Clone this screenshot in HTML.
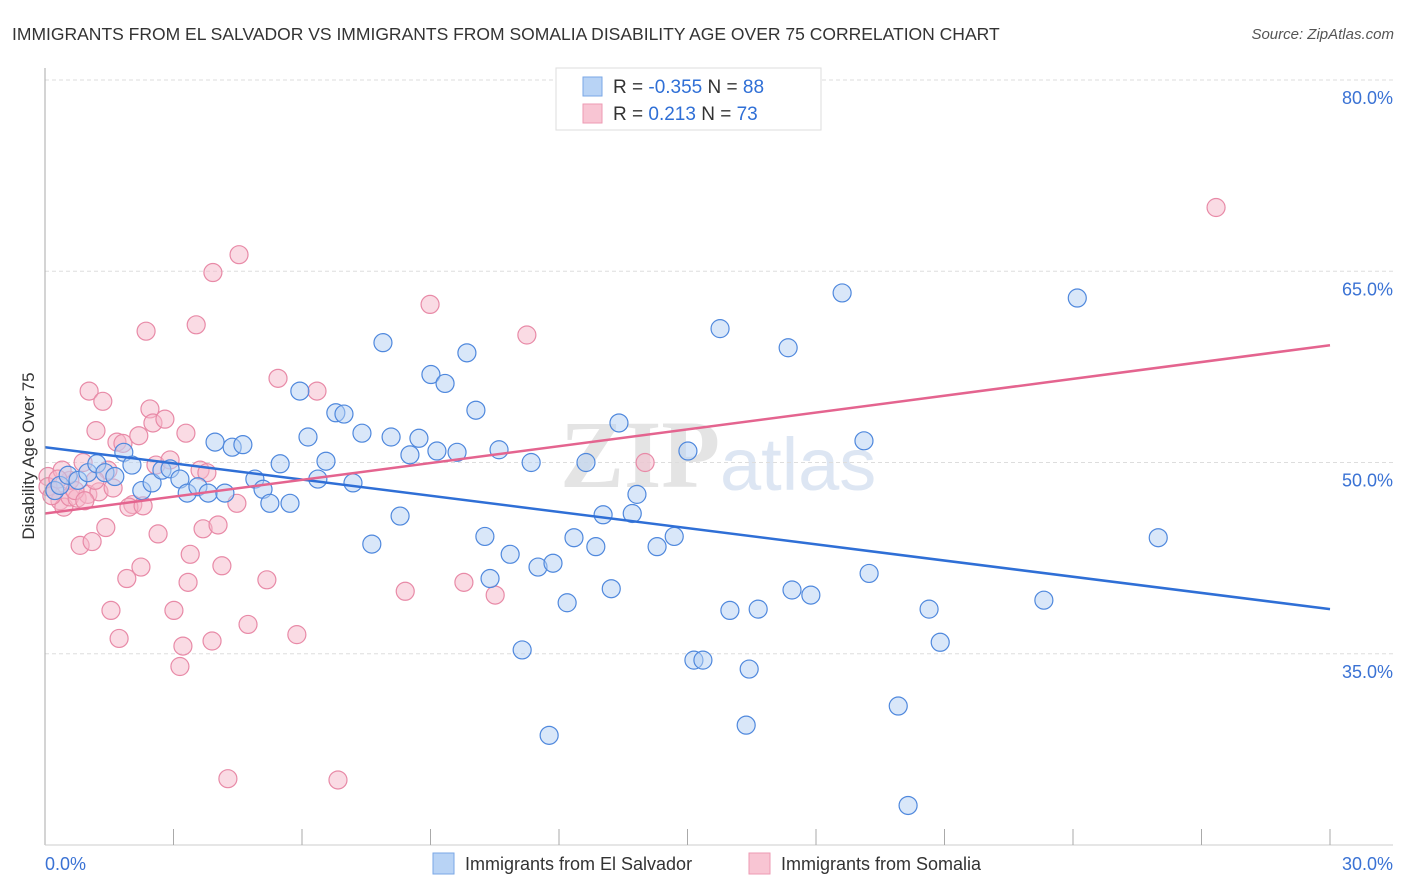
<!DOCTYPE html>
<html><head><meta charset="utf-8"><style>
body{margin:0;background:#fff;font-family:"Liberation Sans",sans-serif;}
svg{display:block}
</style></head><body>
<svg id="chart" width="1406" height="892">
<text x="12" y="40" font-size="17.5" fill="#333">IMMIGRANTS FROM EL SALVADOR VS IMMIGRANTS FROM SOMALIA DISABILITY AGE OVER 75 CORRELATION CHART</text>
<text x="1394" y="39" font-size="15" fill="#555" font-style="italic" text-anchor="end">Source: ZipAtlas.com</text>
<text x="720" y="487" font-size="96" fill="#e4e4e4" font-family="Liberation Serif" text-anchor="end" font-weight="bold">ZIP</text>
<text x="720" y="490" font-size="74" fill="#dde6f3">atlas</text>
<g id="grid"></g><g id="pts"></g><g id="trend"></g><g id="axes"></g>
<text transform="translate(34,456) rotate(-90)" font-size="17" fill="#333" text-anchor="middle">Disability Age Over 75</text>
<g>
<rect x="556" y="68" width="265" height="62" fill="#fff" stroke="#ddd"/>
<rect x="583" y="77" width="19" height="19" fill="#b8d3f5" stroke="#7aa7e6"/>
<rect x="583" y="104" width="19" height="19" fill="#f8c5d3" stroke="#ee9ab3"/>
<text x="613" y="93" font-size="19" fill="#333">R = <tspan fill="#2f6fd6">-0.355</tspan>   N = <tspan fill="#2f6fd6">88</tspan></text>
<text x="613" y="120" font-size="19" fill="#333">R =    <tspan fill="#2f6fd6">0.213</tspan>   N = <tspan fill="#2f6fd6">73</tspan></text>
</g>
<g>
<rect x="433" y="853" width="21" height="21" fill="#b8d3f5" stroke="#7aa7e6"/>
<text x="465" y="870" font-size="18" fill="#333">Immigrants from El Salvador</text>
<rect x="749" y="853" width="21" height="21" fill="#f8c5d3" stroke="#ee9ab3"/>
<text x="781" y="870" font-size="18" fill="#333">Immigrants from Somalia</text>
</g>
</svg>
<script>
const xTicks=[0,3,6,9,12,15,18,21,24,27,30];
const yTicks=[35,50,65,80];
const xLabels=["0.0%","30.0%"];
const blueX=[0.23,0.35,0.54,0.77,1.00,1.21,1.40,1.63,1.84,2.03,2.26,2.50,2.73,2.92,3.15,3.32,3.57,3.81,4.20,3.97,4.37,4.62,4.90,5.09,5.25,5.49,5.72,5.95,6.14,6.37,6.56,6.79,6.98,7.19,7.40,7.63,7.89,8.08,8.29,8.52,8.73,9.01,9.15,9.34,9.62,9.85,10.06,10.27,10.39,10.60,10.86,11.14,11.35,11.51,11.77,11.86,12.19,12.35,12.63,12.86,13.03,13.22,13.40,13.71,13.82,14.29,14.69,15.01,15.15,15.36,15.76,15.99,16.37,16.44,16.65,17.35,17.44,17.88,18.61,19.12,19.24,19.92,20.15,20.64,20.90,23.32,24.10,25.99];
const blueY=[47.8,48.2,49.0,48.6,49.2,49.9,49.2,48.9,50.8,49.8,47.8,48.4,49.4,49.5,48.7,47.6,48.1,47.6,47.6,51.6,51.2,51.4,48.7,47.9,46.8,49.9,46.8,55.6,52.0,48.7,50.1,53.9,53.8,48.4,52.3,43.6,59.4,52.0,45.8,50.6,51.9,56.9,50.9,56.2,50.8,58.6,54.1,44.2,40.9,51.0,42.8,35.3,50.0,41.8,28.6,42.1,39.0,44.1,50.0,43.4,45.9,40.1,53.1,46.0,47.5,43.4,44.2,50.9,34.5,34.5,60.5,38.4,29.4,33.8,38.5,59.0,40.0,39.6,63.3,51.7,41.3,30.9,23.1,38.5,35.9,39.2,62.9,44.1];
const pinkX=[0.07,0.23,0.35,0.44,0.58,0.75,0.82,0.89,1.00,1.10,1.03,1.19,1.26,1.35,1.42,1.54,1.59,1.73,1.68,1.82,1.91,2.05,1.96,2.24,2.19,2.36,2.45,2.52,2.64,2.59,2.80,2.92,3.01,3.15,3.22,3.34,3.29,3.39,3.53,3.62,3.69,3.78,3.90,3.92,4.04,4.13,4.27,4.48,4.53,4.74,5.18,5.44,5.88,6.35,6.84,8.41,8.99,9.78,10.51,11.25,14.01,27.34,0.58,0.40,0.70,1.47,2.29,1.17,0.93,0.07,0.16,0.30];
const pinkY=[48.9,47.8,47.0,46.5,47.3,47.2,43.5,50.0,47.5,43.8,55.6,52.5,47.7,54.8,44.9,38.4,48.0,36.2,51.6,51.5,40.9,46.7,46.5,41.8,52.1,60.3,54.2,53.1,44.4,49.8,53.4,50.2,38.4,34.0,35.6,40.6,52.3,42.8,60.8,49.4,44.8,49.2,36.0,64.9,45.1,41.9,25.2,46.8,66.3,37.3,40.8,56.6,36.5,55.6,25.1,39.9,62.4,40.6,39.6,60.0,50.0,70.0,48.6,49.4,47.8,49.4,46.6,48.6,47.0,48.1,47.4,48.7];
const blueTrend=[51.2,38.5];
const pinkTrend=[46.0,59.2];
const X0=45,X1=1330,Y0=845,Y1=80,XMIN=0,XMAX=30,YMIN=20,YMAX=80;
const sx=v=>X0+(v-XMIN)/(XMAX-XMIN)*(X1-X0);
const sy=v=>Y0-(v-YMIN)/(YMAX-YMIN)*(Y0-Y1);
const NS="http://www.w3.org/2000/svg";
function mk(tag,attrs,parent){const e=document.createElementNS(NS,tag);for(const k in attrs)e.setAttribute(k,attrs[k]);document.getElementById(parent).appendChild(e);return e;}
yTicks.forEach(t=>{
 const l=mk('line',{x1:X0,x2:1393,y1:sy(t),y2:sy(t),stroke:'#ddd','stroke-dasharray':'4,3'},'grid');
 
 
 const tx=mk('text',{x:1393,y:sy(t)+24,'font-size':18,fill:'#3a72d4','text-anchor':'end'},'grid');
 tx.textContent=t.toFixed(1)+'%';
 
 
});
const ax=mk('line',{x1:X0,x2:X0,y1:68,y2:Y0,stroke:'#aaa'},'axes');


const bx=mk('line',{x1:X0,x2:1393,y1:Y0,y2:Y0,stroke:'#ccc'},'axes');


xTicks.forEach(t=>{
 if(t===0)return;
 const l=mk('line',{x1:sx(t),x2:sx(t),y1:Y0-16,y2:Y0,stroke:'#aaa'},'axes');
 
 
});
[[XMIN,xLabels[0],'start',X0],[XMAX,xLabels[1],'end',1393]].forEach(([v,s,a,px])=>{
 const tx=mk('text',{x:px,y:870,'font-size':18,fill:'#3a72d4','text-anchor':a},'axes');
 tx.textContent=s;
 
 
});
function pts(xs,ys,fill,stroke,name){xs.forEach((x,i)=>{
 const c=mk('circle',{cx:sx(x),cy:sy(ys[i]),r:9,fill:fill,'fill-opacity':0.5,stroke:stroke,'stroke-width':1.2},'pts');
 
 
});}
pts(pinkX,pinkY,'#f5b8ca','#e88aa7','somalia-point');
pts(blueX,blueY,'#b3cff3','#4f88dd','el-salvador-point');
const t1=mk('line',{x1:sx(XMIN),y1:sy(blueTrend[0]),x2:sx(XMAX),y2:sy(blueTrend[1]),stroke:'#2f6fd6','stroke-width':2.5},'trend');


const t2=mk('line',{x1:sx(XMIN),y1:sy(pinkTrend[0]),x2:sx(XMAX),y2:sy(pinkTrend[1]),stroke:'#e4648f','stroke-width':2.5},'trend');


</script>
</body></html>
